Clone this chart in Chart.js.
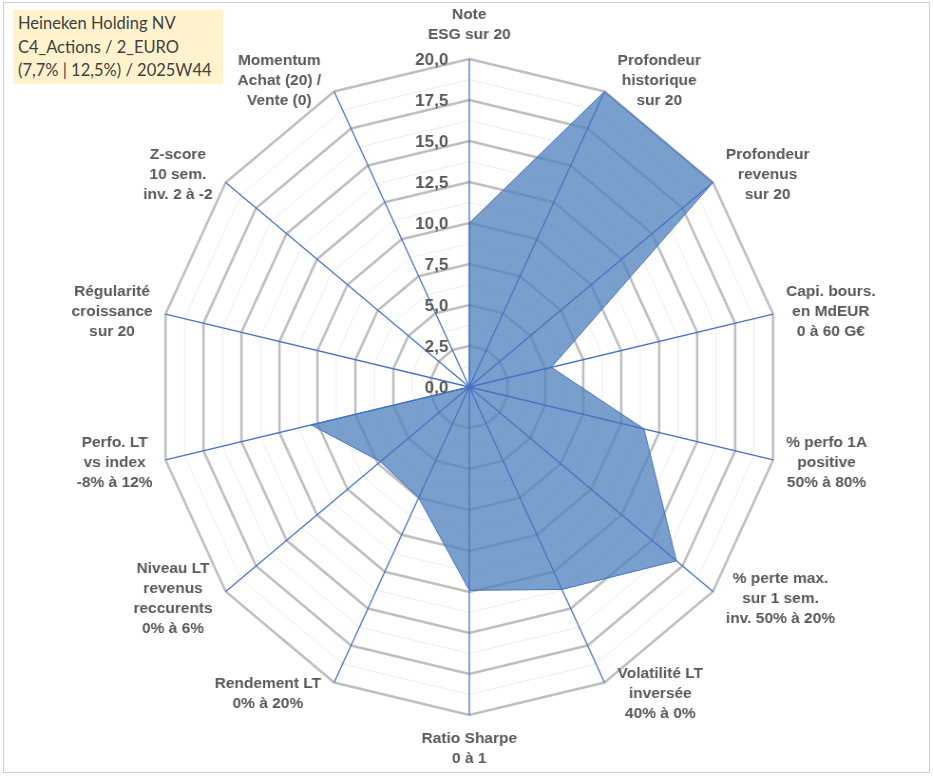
<!DOCTYPE html>
<html>
<head>
  <meta charset="utf-8">
  <title>Heineken Holding NV - radar</title>
  <script src="https://cdn.jsdelivr.net/npm/chart.js"></script>
  <style>
    html, body {
      margin: 0;
      padding: 0;
      width: 933px;
      height: 776px;
      overflow: hidden;
      background: #fff;
    }
    /* the Excel picture is a little narrower than tall, so squash the canvas */
    #radar {
      position: absolute;
      left: 0;
      top: 0;
      transform: scaleX(0.95);
      transform-origin: 0 0;
    }
    .frame {
      position: absolute;
      left: 3px;
      top: 2px;
      width: 925px;
      height: 769px;
      border: 1px solid #cfcfcf;
      pointer-events: none;
    }
    .titlebox {
      position: absolute;
      left: 13px;
      top: 10px;
      width: 205px;
      height: 70px;
      padding: 2px 0 2px 5px;
      background: #fff2cc;
      color: #404040;
      font-family: Lato, "Noto Sans", sans-serif;
      font-size: 16.5px;
      line-height: 23.5px;
    }
  </style>
</head>
<body>
  <canvas id="radar" width="982" height="776"></canvas>
  <div class="frame"></div>
  <div class="titlebox">Heineken Holding NV<br>C4_Actions / 2_EURO<br>(7,7% | 12,5%) / 2025W44</div>

  <script>
    // Axis names (one line per array entry)
    const categories = [
      ["Note", "ESG sur 20"],
      ["Profondeur", "historique", "sur 20"],
      ["Profondeur", "revenus", "sur 20"],
      ["Capi. bours.", "en MdEUR", "0 à 60 G€"],
      ["% perfo 1A", "positive", "50% à 80%"],
      ["% perte max.", "sur 1 sem.", "inv. 50% à 20%"],
      ["Volatilité LT", "inversée", "40% à 0%"],
      ["Ratio Sharpe", "0 à 1"],
      ["Rendement LT", "0% à 20%"],
      ["Niveau LT", "revenus", "reccurents", "0% à 6%"],
      ["Perfo. LT", "vs index", "-8% à 12%"],
      ["Régularité", "croissance", "sur 20"],
      ["Z-score", "10 sem.", "inv. 2 à -2"],
      ["Momentum", "Achat (20) /", "Vente (0)"]
    ];

    // Scores (scale 0 to 20)
    const scores = [10, 20, 20, 5.4, 11.5, 17.0, 13.7, 12.4, 7.5, 7.3, 10.4, 0, 0, 0];

    // Ring values and their labels
    const tickValues = [0, 2.5, 5, 7.5, 10, 12.5, 15, 17.5, 20];
    const tickLabels = ["0,0", "2,5", "5,0", "7,5", "10,0", "12,5", "15,0", "17,5", "20,0"];

    const SX = 0.95; // must match the CSS scaleX

    // text drawn un-squashed so glyphs keep their normal shape
    function putText(ctx, txt, x, y) {
      ctx.save();
      ctx.translate(x, y);
      ctx.scale(1 / SX, 1);
      ctx.fillText(txt, 0, 0);
      ctx.restore();
    }

    // Spokes on top of the fill, ring values, and Excel-like axis labels
    const overlay = {
      id: 'overlay',
      afterDatasetsDraw(chart) {
        const s = chart.scales.r;
        const ctx = chart.ctx;
        ctx.save();

        ctx.strokeStyle = '#4472c4';
        ctx.lineWidth = 1.3;
        categories.forEach((c, i) => {
          const p = s.getPointPosition(i, s.drawingArea);
          ctx.beginPath();
          ctx.moveTo(s.xCenter, s.yCenter);
          ctx.lineTo(p.x, p.y);
          ctx.stroke();
        });

        ctx.fillStyle = '#595959';
        ctx.font = 'bold 17px "Liberation Sans", Arial, sans-serif';
        ctx.textAlign = 'right';
        ctx.textBaseline = 'middle';
        tickValues.forEach((v, i) => {
          const y = s.yCenter - s.getDistanceFromCenterForValue(v);
          putText(ctx, tickLabels[i], s.xCenter - 21 / SX, y + 1);
        });

        ctx.font = 'bold 15.5px "Liberation Sans", Arial, sans-serif';
        ctx.textAlign = 'center';
        const lh = 20;
        categories.forEach((lines, i) => {
          const p = s.getPointPosition(i, s.drawingArea);
          const a = s.getIndexAngle(i);
          const ux = Math.sin(a), uy = -Math.cos(a);
          const w = Math.max(...lines.map(t => ctx.measureText(t).width));
          const h = lines.length * lh;
          let cx, cy;
          if (Math.abs(ux) < 0.01) {
            cx = p.x;
            cy = p.y + Math.sign(uy) * (h / 2 + 14);
          } else {
            cx = p.x + Math.sign(ux) * (w / 2 + 13) / SX;
            cy = p.y + uy * 12;
          }
          lines.forEach((t, k) => {
            putText(ctx, t, cx, cy - h / 2 + lh / 2 + k * lh);
          });
        });

        ctx.restore();
      }
    };

    new Chart(document.getElementById('radar'), {
      type: 'radar',
      data: {
        labels: categories,
        datasets: [{
          data: scores,
          backgroundColor: 'rgba(79, 129, 189, 0.76)',
          borderColor: '#4472c4',
          borderWidth: 1,
          pointRadius: 0,
          fill: true,
          tension: 0
        }]
      },
      options: {
        responsive: false,
        animation: false,
        devicePixelRatio: 1,
        layout: { padding: { left: 6, right: 0, top: 59, bottom: 61 } },
        plugins: {
          legend: { display: false },
          tooltip: { enabled: false }
        },
        scales: {
          r: {
            min: 0,
            max: 20,
            ticks: { stepSize: 1.25, display: false },
            pointLabels: { display: false },
            angleLines: { display: false },
            grid: {
              color: ctx => (ctx.tick.value % 2.5 === 0 ? '#bfbfbf' : '#ececec'),
              lineWidth: ctx => (ctx.tick.value % 2.5 === 0 ? 2.6 : 1)
            }
          }
        }
      },
      plugins: [overlay]
    });
  </script>
</body>
</html>
